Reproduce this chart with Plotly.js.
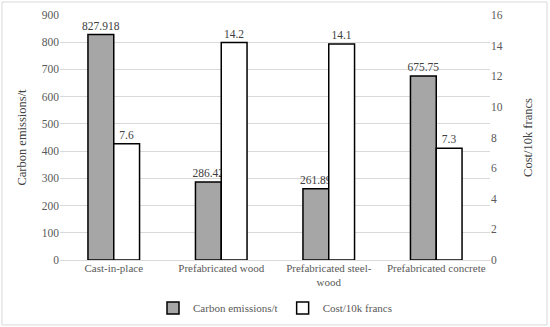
<!DOCTYPE html>
<html><head><meta charset="utf-8">
<script src="https://cdn.plot.ly/plotly-3.0.1.min.js"></script>
<style>html,body{margin:0;padding:0;background:#fff}</style>
</head><body>
<div id="chart" style="width:550px;height:327px"></div>
<script>
var categories = ["Cast-in-place", "Prefabricated wood", "Prefabricated steel-<br>wood", "Prefabricated concrete"];
var carbon = [827.918, 286.42, 261.89, 675.75];
var cost = [7.6, 14.2, 14.1, 7.3];
var carbonLabels = ["827.918", "286.42", "261.89", "675.75"];
var costLabels = ["7.6", "14.2", "14.1", "7.3"];

var fam = "Liberation Serif, Times New Roman, serif";
var traces = [
  {type: "bar", name: "Carbon emissions/t", x: categories, y: carbon, text: carbonLabels,
   textposition: "outside", cliponaxis: false, constraintext: "none", offsetgroup: "1", yaxis: "y",
   marker: {color: "#a6a6a6", line: {color: "#000", width: 1.5}},
   textfont: {family: fam, size: 11.5, color: "#404040"}},
  {type: "bar", name: "Cost/10k francs", x: categories, y: cost, text: costLabels,
   textposition: "outside", cliponaxis: false, constraintext: "none", offsetgroup: "2", yaxis: "y2",
   marker: {color: "#ffffff", line: {color: "#000", width: 1.5}},
   textfont: {family: fam, size: 11.5, color: "#404040"}}
];
var layout = {
  width: 550, height: 327,
  margin: {l: 60, r: 60, t: 15, b: 67},
  font: {family: fam, size: 11, color: "#595959"},
  barmode: "group", bargap: 0.52, bargroupgap: 0,
  paper_bgcolor: "#fff", plot_bgcolor: "#fff",
  showlegend: true,
  legend: {orientation: "h", x: 0.5, xanchor: "center", xref: "paper", yref: "container", y: 0.058, yanchor: "middle",
           font: {family: fam, size: 11, color: "#595959"}, itemwidth: 30, traceorder: "normal"},
  xaxis: {tickfont: {family: fam, size: 11, color: "#595959"}, showline: false, ticks: "", automargin: false},
  yaxis: {range: [0, 900], dtick: 100, gridcolor: "#d9d9d9", gridwidth: 1, zeroline: true, zerolinecolor: "#d9d9d9",
          showline: false, ticks: "", tickfont: {family: fam, size: 11.5, color: "#595959"},
          title: {text: "Carbon emissions/t", font: {family: fam, size: 12.5, color: "#404040"}, standoff: 12}, automargin: false},
  yaxis2: {range: [0, 16], dtick: 2, overlaying: "y", side: "right", showgrid: false, zeroline: false,
           showline: false, ticks: "", tickfont: {family: fam, size: 11.5, color: "#595959"},
           title: {text: "Cost/10k francs", font: {family: fam, size: 12.5, color: "#404040"}, standoff: 21}, automargin: false},
  shapes: [{type: "rect", xref: "paper", yref: "paper", x0: -0.135, x1: 1.1326, y0: -0.265, y1: 1.053,
            line: {color: "#d9d9d9", width: 1}, fillcolor: "rgba(0,0,0,0)", layer: "below"}]
};
Plotly.newPlot("chart", traces, layout, {displayModeBar: false});
</script>
</body></html>
